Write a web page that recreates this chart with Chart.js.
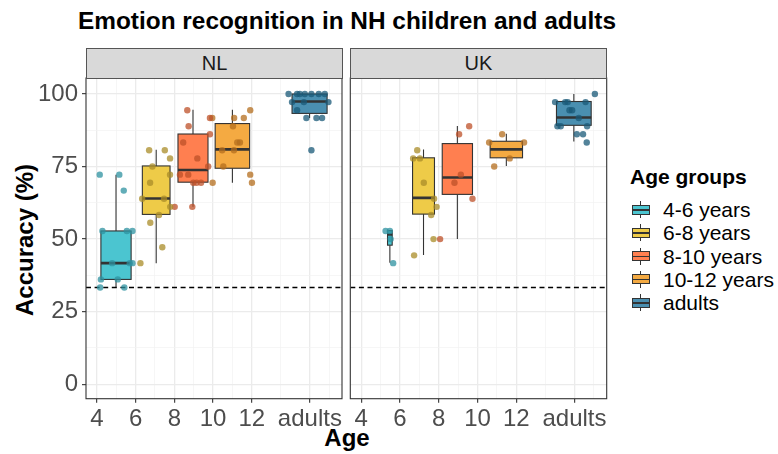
<!DOCTYPE html>
<html>
<head>
<meta charset="utf-8">
<script src="https://cdn.jsdelivr.net/npm/chart.js@4"></script>
<style>
  body { margin:0; background:#fff; }
  #wrap { position:relative; width:778px; height:454px; background:#fff; overflow:hidden;
          font-family:"Liberation Sans", Arial, sans-serif; }
  canvas { position:absolute; }
  .abs { position:absolute; white-space:nowrap; }
  #title { left:0; width:694px; top:9px; text-align:center; font-weight:bold; font-size:24.4px; line-height:24px; color:#000; }
  #ytitle { left:-125.5px; top:228px; width:300px; height:24px; line-height:24px; text-align:center;
            font-weight:bold; font-size:24px; color:#000; transform:rotate(-90deg); }
  #xtitle { left:0; width:694px; top:426px; text-align:center; font-weight:bold; font-size:24px; line-height:24px; color:#000; }
  .strip { top:48px; height:31px; box-sizing:border-box; background:#D9D9D9; border:1px solid #555;
           text-align:center; line-height:29px; font-size:20px; color:#1A1A1A; }
  #legend { left:630px; top:165px; }
  #legend .lt { font-weight:bold; font-size:21px; line-height:24px; height:33px; }
  #legend .li { position:relative; height:23.3px; line-height:23.3px; font-size:21px; color:#000; padding-left:33px; }
  #legend .key { position:absolute; left:1.5px; top:3px; width:18px; height:17px; }
  #legend .key .wh { position:absolute; left:8.5px; top:0; width:1px; height:17px; background:#333; }
  #legend .key .bx { position:absolute; left:0; top:3.5px; width:18px; height:10px; box-sizing:border-box;
                     border:1px solid #333; }
  #legend .key .md { position:absolute; left:0; top:8px; width:18px; height:1.5px; background:#333; }
</style>
</head>
<body>
<div id="wrap">
  <div id="title" class="abs">Emotion recognition in NH children and adults</div>
  <div id="ytitle" class="abs">Accuracy (%)</div>
  <div id="xtitle" class="abs">Age</div>
  <canvas id="nl" width="352" height="406" style="left:0;top:48px"></canvas>
  <canvas id="uk" width="315" height="406" style="left:300px;top:48px"></canvas>
  <div class="abs strip" style="left:86px;width:257px">NL</div>
  <div class="abs strip" style="left:350px;width:257px">UK</div>
  <div id="legend" class="abs"></div>
</div>
<script>
const FONT = '"Liberation Sans", Arial, sans-serif';

const groups = ['4-6 years', '6-8 years', '8-10 years', '10-12 years', 'adults'];
const fillColors = ['#4BC5D0', '#EECB48', '#FF7F50', '#F4AA42', '#4A8FB0'];
const pointColors = ['rgba(45,145,160,0.75)', 'rgba(170,140,40,0.75)', 'rgba(190,80,40,0.75)',
                     'rgba(180,110,30,0.75)', 'rgba(25,90,120,0.75)'];

const xTicks = [4, 6, 8, 10, 12, 15];
const xTickLabels = ['4', '6', '8', '10', '12', 'adults'];
const xMinor = [5, 7, 9, 11, 13.5, 16];
const yTicks = [0, 25, 50, 75, 100];
const yMinor = [12.5, 37.5, 62.5, 87.5];
const chance = 33.33;

// box stats, NL
const nlLeft  = [4.21, 6.35, 8.19, 10.11, 14.08];
const nlRight = [5.77, 7.78, 9.74, 11.89, 15.89];
const nlLower = [33.3, 41.7, 61.1, 69.4, 91.7];
const nlQ1    = [36.1, 58.5, 69.6, 74.4, 93.3];
const nlMed   = [41.7, 64.0, 73.8, 80.9, 97.4];
const nlQ3    = [52.8, 75.2, 86.2, 89.8, 100];
const nlUpper = [72.2, 80.8, 94.6, 94.6, 100];

// box stats, UK
const ukLeft  = [5.36, 6.65, 8.18, 10.65, 14.07];
const ukRight = [5.60, 7.78, 9.74, 12.32, 15.86];
const ukLower = [41.8, 44.5, 50.0, 75.2, 83.6];
const ukQ1    = [47.9, 58.6, 65.4, 78.0, 89.2];
const ukMed   = [51.6, 64.2, 71.2, 80.9, 91.9];
const ukQ3    = [52.9, 78.0, 82.9, 83.7, 97.4];
const ukUpper = [52.9, 80.9, 89.0, 86.3, 100];

// individual points (age, accuracy), NL
const nl46Age = [4.15, 5.16, 5.39, 4.29, 5.55, 5.84, 4.79, 5.70, 5.84, 4.21, 5.08, 4.17, 5.42];
const nl46Acc = [72.2, 72.2, 66.7, 52.8, 52.8, 52.8, 41.7, 41.7, 41.7, 36.1, 36.1, 33.3, 33.3];
const nl68Age = [6.70, 7.51, 7.78, 6.87, 7.78, 6.75, 6.34, 7.47, 7.79, 7.21, 6.76, 7.38, 6.25];
const nl68Acc = [80.6, 80.6, 77.8, 75.0, 72.2, 69.4, 63.9, 63.9, 61.1, 58.3, 55.6, 47.2, 41.7];
const nl810Age = [8.67, 8.74, 9.84, 9.84, 8.46, 9.19, 9.75, 8.29, 8.72, 8.98, 9.15, 9.38, 8.93, 8.02];
const nl810Acc = [94.4, 88.9, 91.7, 86.1, 83.3, 77.8, 75.0, 72.2, 72.2, 69.4, 69.4, 69.4, 61.1, 61.1];
const nl1012Age = [9.96, 11.09, 11.59, 11.92, 11.03, 11.25, 11.39, 10.47, 11.08, 10.53, 11.92, 12.01, 9.98];
const nl1012Acc = [91.7, 91.7, 91.7, 94.4, 88.9, 83.3, 83.3, 80.6, 80.6, 75.0, 72.2, 69.4, 69.4];
const nlAdAge = [13.90, 14.34, 14.48, 14.74, 15.08, 15.46, 15.77, 14.08, 14.69, 15.96, 14.34, 14.82, 15.34, 15.63, 15.08];
const nlAdAcc = [100, 100, 100, 100, 100, 100, 100, 97.2, 97.2, 97.2, 94.4, 91.7, 91.7, 91.7, 80.6];

// individual points, UK
const uk46Age = [5.26, 5.48, 5.52, 5.65];
const uk46Acc = [52.8, 52.8, 50.0, 41.7];
const uk68Age = [6.89, 6.68, 7.03, 7.23, 7.76, 7.89, 7.61, 7.73, 6.73];
const uk68Acc = [80.6, 77.8, 77.8, 69.4, 63.9, 61.1, 58.3, 50.0, 44.4];
const uk810Age = [9.57, 9.05, 9.14, 8.81, 9.74, 8.07];
const uk810Acc = [88.9, 86.1, 72.2, 69.4, 63.9, 50.0];
const uk1012Age = [11.27, 10.60, 12.40, 11.66, 10.86];
const uk1012Acc = [86.1, 83.3, 83.3, 77.8, 75.0];
const ukAdAge = [16.05, 14.00, 14.52, 14.65, 15.57, 14.74, 14.88, 15.22, 14.12, 14.29, 15.65, 15.12, 15.44, 15.63];
const ukAdAcc = [100, 97.2, 97.2, 97.2, 97.2, 94.4, 94.4, 91.7, 88.9, 88.9, 88.9, 86.1, 86.1, 83.3];

// boxes + chance line + panel border
const boxPlugin = {
  id: 'boxes',
  beforeDatasetsDraw(chart, args, o) {
    const {ctx, chartArea: a, scales: {x, y}} = chart;
    ctx.save();
    ctx.beginPath(); ctx.rect(a.left, a.top, a.width, a.height); ctx.clip();
    ctx.strokeStyle = '#333';
    o.left.forEach((l, i) => {
      const x0 = x.getPixelForValue(l), x1 = x.getPixelForValue(o.right[i]), xm = (x0 + x1) / 2;
      const yt = y.getPixelForValue(o.q3[i]), yb = y.getPixelForValue(o.q1[i]);
      ctx.lineWidth = 1.1;
      ctx.beginPath();
      ctx.moveTo(xm, y.getPixelForValue(o.upper[i])); ctx.lineTo(xm, yt);
      ctx.moveTo(xm, yb); ctx.lineTo(xm, y.getPixelForValue(o.lower[i]));
      ctx.stroke();
      ctx.fillStyle = fillColors[i];
      ctx.fillRect(x0, yt, x1 - x0, yb - yt);
      ctx.strokeRect(x0, yt, x1 - x0, yb - yt);
      const ym = y.getPixelForValue(o.med[i]);
      ctx.lineWidth = 2.6;
      ctx.beginPath(); ctx.moveTo(x0, ym); ctx.lineTo(x1, ym); ctx.stroke();
    });
    // chance level
    const yc = Math.round(y.getPixelForValue(chance)) + 0.5;
    ctx.strokeStyle = '#000'; ctx.lineWidth = 1.3; ctx.setLineDash([5, 3.6]);
    ctx.beginPath(); ctx.moveTo(a.left, yc); ctx.lineTo(a.right, yc); ctx.stroke();
    ctx.restore();
  },
  afterDraw(chart) {
    const {ctx, chartArea: a} = chart;
    ctx.save();
    ctx.strokeStyle = '#333'; ctx.lineWidth = 1.1;
    ctx.strokeRect(a.left, a.top, a.width, a.height);
    ctx.restore();
  }
};

function scatterSets(ages, accs) {
  return ages.map((a, i) => ({
    data: a.map((v, k) => ({x: v, y: accs[i][k]})),
    backgroundColor: pointColors[i], borderWidth: 0, pointRadius: 3.2, pointHoverRadius: 3.2
  }));
}

function makeChart(id, sets, box, showY, pad) {
  const isMajX = v => xTicks.includes(v);
  const isMajY = v => yTicks.includes(v);
  return new Chart(document.getElementById(id), {
    type: 'scatter',
    data: { datasets: sets },
    options: {
      responsive: false, animation: false, devicePixelRatio: 1, events: [],
      layout: { padding: pad },
      plugins: { legend: { display: false }, tooltip: { enabled: false }, boxes: box },
      scales: {
        x: {
          type: 'linear', min: 3.44, max: 16.66,
          afterBuildTicks: s => { s.ticks = [...xTicks, ...xMinor].sort((a, b) => a - b).map(v => ({value: v})); },
          afterFit: s => { s.height = 30; },
          border: { display: false },
          grid: {
            color: c => isMajX(c.tick.value) ? '#EBEBEB' : '#F2F2F2',
            lineWidth: c => isMajX(c.tick.value) ? 1.3 : 0.7,
            tickLength: 4, tickWidth: 1.1,
            tickColor: c => isMajX(c.tick.value) ? '#333' : 'rgba(0,0,0,0)'
          },
          ticks: {
            autoSkip: false, maxRotation: 0, padding: 2, color: '#4D4D4D',
            font: { size: 24, family: FONT },
            callback: v => { const i = xTicks.indexOf(v); return i < 0 ? '' : xTickLabels[i]; }
          }
        },
        y: {
          type: 'linear', min: -5, max: 105.5,
          afterBuildTicks: s => { s.ticks = [...yTicks, ...yMinor].sort((a, b) => a - b).map(v => ({value: v})); },
          afterFit: s => { s.width = showY ? 86 : 0; },
          border: { display: false },
          grid: {
            color: c => isMajY(c.tick.value) ? '#EBEBEB' : '#F2F2F2',
            lineWidth: c => isMajY(c.tick.value) ? 1.3 : 0.7,
            drawTicks: showY, tickLength: 4, tickWidth: 1.1,
            tickColor: c => isMajY(c.tick.value) ? '#333' : 'rgba(0,0,0,0)'
          },
          ticks: {
            display: showY, autoSkip: false, padding: 4, color: '#4D4D4D',
            font: { size: 24, family: FONT },
            callback: v => isMajY(v) ? String(v) : ''
          }
        }
      }
    },
    plugins: [boxPlugin]
  });
}

makeChart('nl',
  scatterSets([nl46Age, nl68Age, nl810Age, nl1012Age, nlAdAge], [nl46Acc, nl68Acc, nl810Acc, nl1012Acc, nlAdAcc]),
  { left: nlLeft, right: nlRight, lower: nlLower, q1: nlQ1, med: nlMed, q3: nlQ3, upper: nlUpper },
  true, { left: 0, right: 10, top: 30, bottom: 25.3 });

makeChart('uk',
  scatterSets([uk46Age, uk68Age, uk810Age, uk1012Age, ukAdAge], [uk46Acc, uk68Acc, uk810Acc, uk1012Acc, ukAdAcc]),
  { left: ukLeft, right: ukRight, lower: ukLower, q1: ukQ1, med: ukMed, q3: ukQ3, upper: ukUpper },
  false, { left: 50.3, right: 8.3, top: 30, bottom: 25.3 });

// legend
const lg = document.getElementById('legend');
lg.innerHTML = '<div class="lt">Age groups</div>' + groups.map((g, i) =>
  '<div class="li"><span class="key"><span class="wh"></span><span class="bx" style="background:' + fillColors[i] +
  '"></span><span class="md"></span></span>' + g + '</div>').join('');
</script>
</body>
</html>
